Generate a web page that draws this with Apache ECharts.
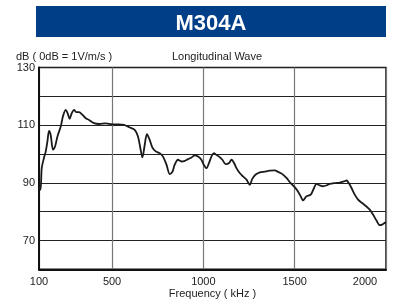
<!DOCTYPE html>
<html>
<head>
<meta charset="utf-8">
<script src="https://cdn.jsdelivr.net/npm/echarts@6/dist/echarts.min.js"></script>
<style>
html,body{margin:0;padding:0;background:#fff;}
#main{width:395px;height:300px;}
</style>
</head>
<body>
<div id="main"></div>
<script>
// frequency (kHz) and response (dB)
var freq = [100,108,115,127,137,146,155,164,177,188,201,219,231,246,257,268,279,292,305,319,338,356,374,401,429,465,502,538,565,597,624,642,655,666,679,691,706,721,739,761,779,798,816,831,843,861,880,898,916,935,953,971,989,1002,1017,1031,1044,1057,1071,1086,1104,1122,1141,1154,1168,1181,1199,1217,1236,1254,1267,1285,1309,1336,1363,1391,1409,1431,1455,1478,1500,1518,1533,1546,1564,1588,1606,1619,1638,1655,1674,1692,1719,1747,1770,1784,1796,1811,1829,1847,1869,1893,1911,1929,1948,1966,1979,1993,2000];
var db = [88.5,87.6,95.1,98.6,100.9,104.3,108.0,106.6,101.5,102.6,106.1,109.5,113.0,115.3,114.1,112.2,114.1,115.3,114.5,114.5,113.6,112.4,111.8,110.7,110.4,110.6,110.3,110.3,110.1,109.2,108.4,106.1,102.0,98.8,103.2,106.9,104.9,102.2,100.9,100.3,99.1,96.3,93.0,93.9,96.3,98.0,97.4,97.6,98.2,98.8,99.5,99.1,98.0,96.3,95.1,96.9,99.1,100.3,99.7,99.1,98.0,96.5,96.9,98.0,96.9,95.1,93.4,92.2,91.1,89.3,91.3,92.8,93.6,93.9,94.2,94.3,93.8,93.1,91.7,89.9,88.5,87.0,85.3,83.9,85.3,85.9,88.2,89.6,89.1,88.8,89.1,89.6,89.9,90.1,90.5,90.8,89.9,88.2,85.9,84.2,83.0,81.8,80.7,79.0,76.9,75.3,75.5,76.1,76.3];
var xTicks = [100,500,1000,1500,2000];
var yLabels = [70,90,110,130];

var points = freq.map(function(f,i){ return [f, db[i]]; });

var myChart = echarts.init(document.getElementById('main'));
var option = {
    backgroundColor: '#fff',
    textStyle: { fontFamily: 'Liberation Sans, Arial, sans-serif' },
    animation: false,
    title: {
        text: 'M304A',
        left: 206,
        top: 8,
        textAlign: 'center',
        textStyle: { color: '#fff', fontSize: 22, fontWeight: 'bold', fontFamily: 'Liberation Sans, Arial, sans-serif' }
    },
    graphic: [
        { type: 'rect', z: -1, shape: { x: 36, y: 6, width: 350, height: 31 }, style: { fill: '#003f87' } },
        { type: 'text', left: 16, top: 51, style: { text: 'dB ( 0dB = 1V/m/s )', fill: '#222', font: '11px Liberation Sans, Arial, sans-serif' } },
        { type: 'text', left: 172, top: 51, style: { text: 'Longitudinal Wave', fill: '#222', font: '11px Liberation Sans, Arial, sans-serif' } }
    ],
    grid: {
        left: 39, right: 9, top: 67.5, bottom: 30.7,
        outerBoundsMode: 'none',
        show: true, borderColor: '#111', borderWidth: 1.5
    },
    xAxis: {
        type: 'value',
        min: 100, max: 2000,
        name: 'Frequency ( kHz )',
        nameLocation: 'middle',
        nameGap: 19,
        nameMoveOverlap: false,
        nameTextStyle: { color: '#222', fontSize: 11 },
        axisLine: { lineStyle: { color: '#111', width: 2 } },
        axisTick: { show: false, customValues: xTicks },
        axisLabel: {
            customValues: xTicks,
            color: '#222', fontSize: 11, margin: 7,
            formatter: function(v){ return v === 2000 ? '{r|2000}' : String(v); },
            rich: { r: { color: '#222', fontSize: 11, padding: [0, 42, 0, 0] } }
        },
        splitLine: { show: true, lineStyle: { color: '#777', width: 1.2 } }
    },
    yAxis: {
        type: 'value',
        min: 60, max: 130, interval: 10,
        axisLine: { show: true, lineStyle: { color: '#111', width: 2 } },
        axisTick: { show: false },
        axisLabel: {
            color: '#222', fontSize: 11, margin: 4,
            formatter: function(v){ return yLabels.indexOf(v) >= 0 ? String(v) : ''; }
        },
        splitLine: { show: true, lineStyle: { color: '#222', width: 1 } }
    },
    series: [{
        type: 'line',
        data: points,
        showSymbol: false,
        smooth: 0.3,
        lineStyle: { color: '#1a1a1a', width: 1.8 }
    }]
};
myChart.setOption(option);
</script>
</body>
</html>
